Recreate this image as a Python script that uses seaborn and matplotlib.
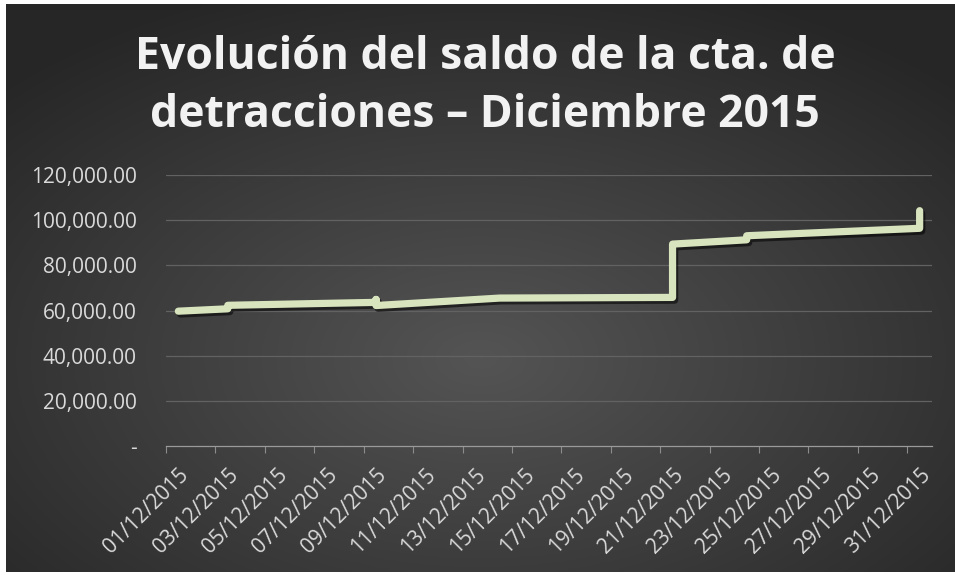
import numpy as np
import pandas as pd
import seaborn as sns
import matplotlib
matplotlib.use('Agg')
import matplotlib.pyplot as plt
import matplotlib.patheffects as pe
from matplotlib.ticker import FuncFormatter, FixedLocator

# saldo de la cuenta por movimiento (varios movimientos el mismo dia)
fechas = ['01/12/2015', '03/12/2015', '03/12/2015', '09/12/2015', '09/12/2015',
          '09/12/2015', '14/12/2015', '21/12/2015', '21/12/2015', '24/12/2015',
          '24/12/2015', '31/12/2015', '31/12/2015']
saldos = [59700, 60750, 62300, 63600, 64900, 62200, 65500, 65800, 89400,
          91300, 93100, 96400, 104200]

y_ticks = [0, 20000, 40000, 60000, 80000, 100000, 120000]
x_labels = list(pd.date_range('2015-12-01', '2015-12-31', freq='2D').strftime('%d/%m/%Y'))

titulo = ['Evolución del saldo de la cta. de', 'detracciones – Diciembre 2015']

df = pd.DataFrame({'fecha': pd.to_datetime(fechas, dayfirst=True), 'saldo': saldos})
df['dia'] = df['fecha'].dt.day

sns.set_theme(style='dark')
plt.rcParams['font.family'] = ['Open Sans', 'DejaVu Sans']

fig = plt.figure(figsize=(9.55, 5.75), dpi=100, facecolor='white')

# fondo con degradado radial (estilo Excel)
bg = fig.add_axes([6 / 955, 3 / 575, 1 - 6 / 955, 1 - 7 / 575], zorder=-10)
gx, gy = np.meshgrid(np.linspace(-1, 1, 400), np.linspace(-1, 1, 240))
r = np.clip(np.sqrt(gx ** 2 + (gy + 0.25) ** 2) / 1.4, 0, 1)
grad = 0.33 - 0.18 * r
bg.imshow(np.dstack([grad] * 3), aspect='auto', extent=[0, 1, 0, 1], origin='lower')
bg.set_axis_off()

ax = fig.add_axes([166 / 955, 1 - 446 / 575, (932 - 166) / 955, (446 - 175) / 575])
ax.set_facecolor('none')

sns.lineplot(data=df, x='dia', y='saldo', ax=ax, sort=False, estimator=None,
             color='#D7E4BD', linewidth=5.2, solid_capstyle='round',
             solid_joinstyle='round',
             path_effects=[pe.SimpleLineShadow(offset=(1.5, -2), shadow_color='black', alpha=0.55),
                           pe.Normal()])

ax.set_xlim(0.5, 31.5)
ax.set_ylim(0, 120000)
ax.set_yticks(y_ticks)
ax.yaxis.set_major_formatter(FuncFormatter(lambda v, p: '-' if v == 0 else f'{v:,.2f}'))
ax.set_xticks(range(1, 32, 2))
ax.set_xticklabels(x_labels, rotation=45, ha='right', rotation_mode='anchor')
ax.xaxis.set_minor_locator(FixedLocator(np.arange(0.5, 31.6, 2)))
ax.tick_params(axis='x', which='major', length=0, pad=13, labelsize=15, labelcolor='#d9d9d9')
ax.tick_params(axis='x', which='minor', length=5, width=0.8, color='#8c8c8c', bottom=True)
ax.tick_params(axis='y', length=0, pad=21, labelsize=15, labelcolor='#d9d9d9')
ax.set_xlabel('')
ax.set_ylabel('')

ax.grid(False)
for v in y_ticks[1:]:
    ax.axhline(v, color='#626262', linewidth=0.9, zorder=0)
for s in ['top', 'right', 'left']:
    ax.spines[s].set_visible(False)
ax.spines['bottom'].set_color('#9a9a9a')
ax.spines['bottom'].set_linestyle((0, (1.5, 1)))
ax.spines['bottom'].set_linewidth(0.9)

fig.text(0.508, 1 - 69 / 575, titulo[0], ha='center', va='baseline',
         fontsize=32, fontweight='bold', color='#f2f2f2')
fig.text(0.508, 1 - 127 / 575, titulo[1], ha='center', va='baseline',
         fontsize=32, fontweight='bold', color='#f2f2f2')

fig.savefig('out.png', dpi=100, facecolor='white')
